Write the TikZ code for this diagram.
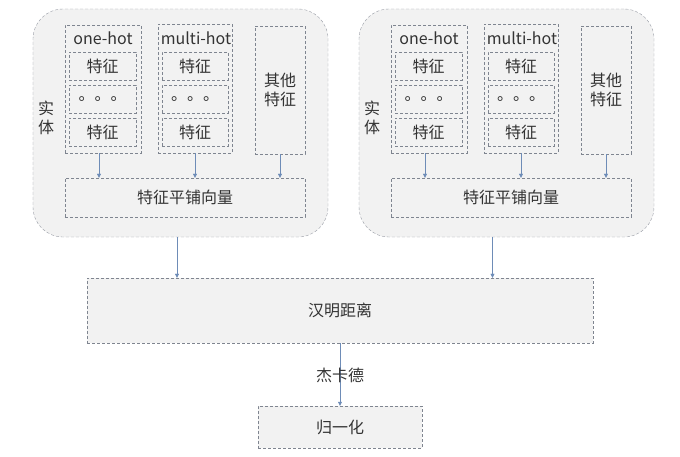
\documentclass[tikz,border=0pt]{standalone}
\usepackage{fontspec}
\setmainfont{Noto Sans CJK SC}
\usepackage{xcolor}
\usetikzlibrary{arrows.meta}
\definecolor{khung}{HTML}{7F8590}
\definecolor{nen}{HTML}{F2F2F2}
\definecolor{muiten}{HTML}{4A6FA5}
\tikzset{
	hop/.style={draw=khung, dash pattern=on 3bp off 2bp, fill=nen, inner sep=0pt, font=\fontsize{16bp}{19bp}\selectfont, text=black!80},
	thucthe/.style={hop, rounded corners=30bp, draw=khung!80},
	chu/.style={inner sep=0pt, font=\fontsize{16bp}{19bp}\selectfont, text=black!80, align=center},
	ten/.style={->, >={Triangle[length=4bp,width=4bp]}, draw=muiten!80, fill=muiten}
}
\begin{document}
\begin{tikzpicture}[x=1bp,y=-1bp]
	\useasboundingbox (0,0) rectangle (680,457);
	% Vẽ hai khối thực thể
	\foreach \i/\o in {1/0,2/326}{
		\node[thucthe, minimum width=295bp, minimum height=228bp] (thucthe\i) at (180.5+\o,123) {};
		\node[chu] (nhan\i) at (46+\o,118) {实\\体};
		\node[hop, fill=none, minimum width=76bp, minimum height=128bp] (onehot\i) at (103+\o,89) {};
		\node[chu] at (103+\o,38) {one-hot};
		\node[hop, fill=none, minimum width=74bp, minimum height=129bp] (multihot\i) at (195+\o,88.5) {};
		\node[chu] at (196+\o,38) {multi-hot};
		\foreach \y/\t [count=\k] in {66/特征,99.5/。。。,132.5/特征}{
			\node[hop, minimum width=67bp, minimum height=28bp] (oh\i\k) at (102.5+\o,\y) {\t};
			\node[hop, minimum width=66bp, minimum height=28bp] (mh\i\k) at (195+\o,\y) {\t};
		}
		\node[hop, fill=none, minimum width=50bp, minimum height=128bp, align=center] (khac\i) at (280+\o,90) {其他\\特征};
		\node[hop, minimum width=240bp, minimum height=39bp] (vecto\i) at (185+\o,197.5) {特征平铺向量};
		\draw[ten] ([xshift=-4bp]onehot\i.south) -- ([xshift=-4bp]onehot\i.south |- vecto\i.north);
		\draw[ten] (multihot\i.south) -- (multihot\i.south |- vecto\i.north);
		\draw[ten] (khac\i.south) -- (khac\i.south |- vecto\i.north);
	}
	% Vẽ phần dưới
	\node[hop, minimum width=506bp, minimum height=65bp] (hanming) at (340,310.5) {汉明距离};
	\node[hop, minimum width=164bp, minimum height=42bp] (chuanhoa) at (340,427) {归一化};
	\draw[ten] ([xshift=-3.5bp]thucthe1.south) -- ([xshift=-3.5bp]thucthe1.south |- hanming.north);
	\draw[ten] ([xshift=-14bp]thucthe2.south) -- ([xshift=-14bp]thucthe2.south |- hanming.north);
	\draw[ten] (hanming.south) -- (chuanhoa.north);
	\node[chu] (jaccard) at (340,375) {杰卡德};
\end{tikzpicture}
\end{document}
